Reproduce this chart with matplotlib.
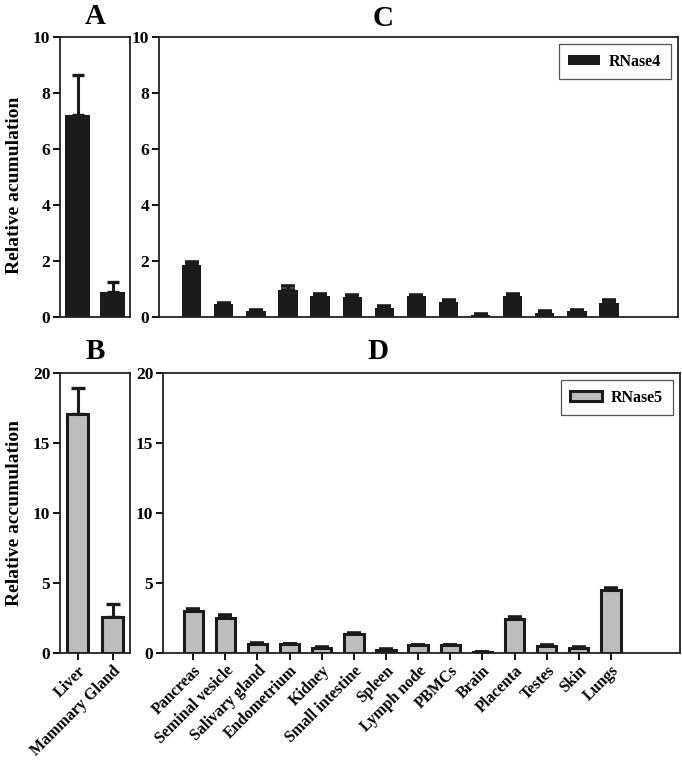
import numpy as np
import matplotlib
matplotlib.use('Agg')
import matplotlib.pyplot as plt

plt.rcParams['font.family'] = ['Liberation Serif', 'DejaVu Serif']
plt.rcParams['font.weight'] = 'bold'

# glands (panels A / B)
gland = ['Liver', 'Mammary Gland']
rnase4_gland = [7.2, 0.9]
rnase4_gland_err = [1.45, 0.35]
rnase5_gland = [17.1, 2.6]
rnase5_gland_err = [1.8, 0.9]

# other tissues (panels C / D)
tissues = ['Pancreas', 'Seminal vesicle', 'Salivary gland', 'Endometrium', 'Kidney',
           'Small intestine', 'Spleen', 'Lymph node', 'PBMCs', 'Brain', 'Placenta',
           'Testes', 'Skin', 'Lungs']
rnase4 = [1.85, 0.45, 0.22, 0.97, 0.74, 0.73, 0.31, 0.74, 0.54, 0.06, 0.75, 0.16, 0.22, 0.51]
rnase4_err = [0.12, 0.06, 0.04, 0.12, 0.09, 0.05, 0.07, 0.06, 0.07, 0.05, 0.08, 0.05, 0.04, 0.08]
rnase5 = [3.0, 2.53, 0.64, 0.63, 0.36, 1.37, 0.24, 0.56, 0.56, 0.07, 2.44, 0.51, 0.39, 4.47]
rnase5_err = [0.12, 0.16, 0.04, 0.04, 0.05, 0.05, 0.04, 0.04, 0.04, 0.03, 0.12, 0.04, 0.04, 0.16]

DARK = '#1b1b1b'; GREY = '#bdbdbd'
W, H = 682, 770
fig = plt.figure(figsize=(W/100, H/100), dpi=100)

def box(l, t, r, b):
    return fig.add_axes([l/W, 1-b/H, (r-l)/W, (b-t)/H])

axA = box(60, 37, 130, 317)
axC = box(159, 37, 678, 317)
axB = box(60, 373, 130, 653)
axD = box(163, 373, 680, 653)

def style(ax, xticks):
    for s in ax.spines.values():
        s.set_linewidth(1.3); s.set_color('#222')
    ax.tick_params(axis='y', direction='out', length=5, width=1.3, labelsize=12.5, pad=2)
    if xticks:
        ax.tick_params(axis='x', direction='out', length=5, width=1.3, labelsize=11.5, pad=2)
    else:
        ax.tick_params(axis='x', length=0, labelbottom=False)

def up(err):
    return [np.zeros(len(err)), err]

def legend(ax):
    leg = ax.legend(loc='upper right', fancybox=False, edgecolor='#555', framealpha=1,
                    fontsize=11.5, handlelength=2.0, handleheight=0.6, borderpad=0.6,
                    handletextpad=0.55, borderaxespad=0.45)
    leg.get_frame().set_linewidth(0.9)

# A
x = np.arange(len(gland))
axA.bar(x, rnase4_gland, 0.7, color=DARK, zorder=2)
axA.errorbar(x, rnase4_gland, yerr=up(rnase4_gland_err), fmt='none', ecolor=DARK,
             elinewidth=2.2, capsize=4.3, capthick=2.4, zorder=3)
axA.set_xlim(-0.5, 1.5); axA.set_ylim(0, 10); axA.set_yticks(range(0, 11, 2))
axA.set_xticks(x)
style(axA, False)
axA.set_ylabel('Relative acumulation', fontsize=14, fontweight='bold')
axA.yaxis.set_label_coords(-0.53, 0.47)

# C
xt = np.arange(len(tissues))
axC.bar(xt, rnase4, 0.6, color=DARK, zorder=2, label='RNase4')
axC.errorbar(xt, rnase4, yerr=up(rnase4_err), fmt='none', ecolor=DARK,
             elinewidth=2.2, capsize=4.8, capthick=2.6, zorder=3)
axC.set_xlim(-1.02, 15.15); axC.set_ylim(0, 10); axC.set_yticks(range(0, 11, 2))
axC.set_xticks(xt)
style(axC, False)
legend(axC)

# B
axB.bar(x, rnase5_gland, 0.62, color=GREY, edgecolor=DARK, linewidth=2.2, zorder=2)
axB.errorbar(x, rnase5_gland, yerr=up(rnase5_gland_err), fmt='none', ecolor=DARK,
             elinewidth=2.2, capsize=5.2, capthick=2.4, zorder=1)
axB.set_xlim(-0.5, 1.5); axB.set_ylim(0, 20); axB.set_yticks(range(0, 21, 5))
axB.set_xticks(x)
axB.set_xticklabels(gland, rotation=45, ha='right', rotation_mode='anchor')
style(axB, True)
axB.set_ylabel('Relative accumulation', fontsize=14, fontweight='bold')
axB.yaxis.set_label_coords(-0.53, 0.5)

# D
axD.bar(xt, rnase5, 0.6, color=GREY, edgecolor=DARK, linewidth=2.2, zorder=2, label='RNase5')
axD.errorbar(xt, rnase5, yerr=up(rnase5_err), fmt='none', ecolor=DARK,
             elinewidth=2.2, capsize=4.8, capthick=2.6, zorder=1)
axD.set_xlim(-0.94, 15.15); axD.set_ylim(0, 20); axD.set_yticks(range(0, 21, 5))
axD.set_xticks(xt)
axD.set_xticklabels(tissues, rotation=45, ha='right', rotation_mode='anchor')
style(axD, True)
legend(axD)

for lab, px, py in [('A', 95, 16), ('C', 383, 18), ('B', 95, 352), ('D', 378, 352)]:
    fig.text(px/W, 1-py/H, lab, fontsize=21, fontweight='bold', ha='center', va='center')

fig.savefig('out.png', dpi=100)
